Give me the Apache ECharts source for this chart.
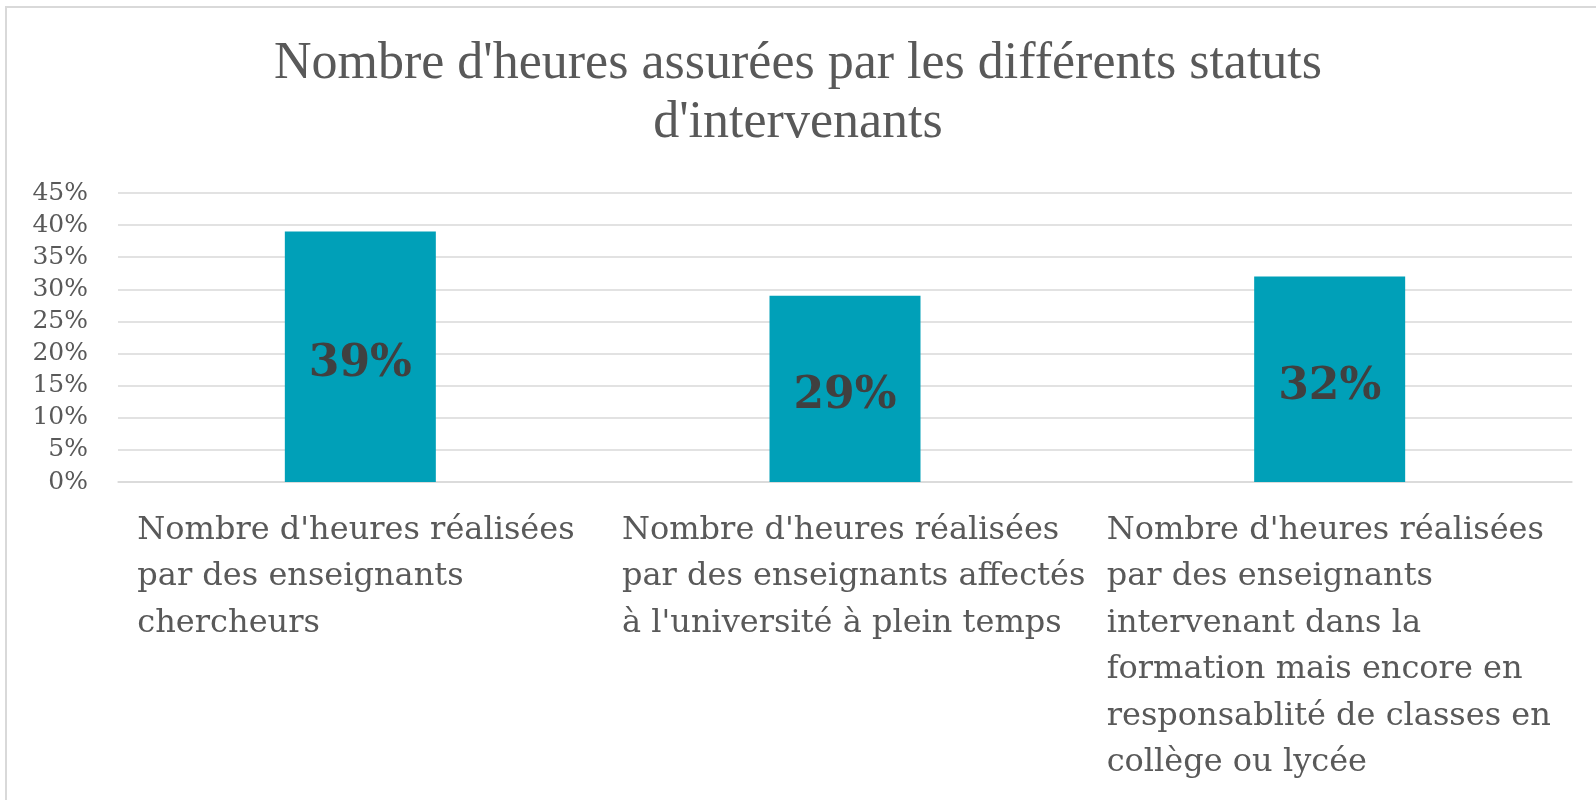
<!DOCTYPE html>
<html>
<head>
<meta charset="utf-8">
<script src="https://cdn.jsdelivr.net/npm/echarts@6/dist/echarts.min.js"></script>
<style>
  html, body { margin: 0; padding: 0; background: #fff; }
  #chart { width: 1596px; height: 800px; }
</style>
</head>
<body>
<div id="chart"></div>
<script>
var titleText = "Nombre d'heures assurées par les différents statuts\nd'intervenants";
// category names, line breaks as in the picture
var categories = [
	"Nombre d'heures réalisées\npar des enseignants\nchercheurs",
	"Nombre d'heures réalisées\npar des enseignants affectés\nà l'université à plein temps",
	"Nombre d'heures réalisées\npar des enseignants\nintervenant dans la\nformation mais encore en\nresponsablité de classes en\ncollège ou lycée"
];
var values = [39, 29, 32];
var yMax = 45;
var yStep = 5;

var myChart = echarts.init(document.getElementById('chart'));
var option = {
	backgroundColor: '#fff',
	animation: false,
	title: {
		text: titleText,
		left: 'center',
		top: 30,
		textStyle: {
			fontFamily: 'Liberation Serif',
			fontWeight: 'normal',
			fontSize: 52,
			lineHeight: 59,
			color: '#595959'
		}
	},
	graphic: [{
		type: 'rect',
		shape: { x: 6, y: 7, width: 1700, height: 900 },
		style: { fill: 'none', stroke: '#d9d9d9', lineWidth: 2 },
		silent: true
	}],
	grid: { left: 118, right: 24, top: 193, bottom: 318 },
	xAxis: {
		type: 'category',
		data: categories,
		axisLine: { show: true, lineStyle: { color: '#d9d9d9', width: 1.5 } },
		axisTick: { show: false },
		axisLabel: {
			interval: 0,
			margin: 25,
			align: 'center',
			formatter: function (v) {
				return v.split('\n').map(function (l) { return '{a|' + l + '}'; }).join('\n');
			},
			rich: {
				a: {
					width: 446,
					align: 'left',
					fontFamily: 'DejaVu Serif',
					fontSize: 32,
					lineHeight: 46.5,
					color: '#595959'
				}
			}
		}
	},
	yAxis: {
		type: 'value',
		min: 0,
		max: yMax,
		interval: yStep,
		axisLine: { show: false },
		axisTick: { show: false },
		splitLine: { lineStyle: { color: '#d9d9d9', width: 1.5 } },
		axisLabel: {
			formatter: '{value}%',
			margin: 30,
			fontFamily: 'DejaVu Serif',
			fontSize: 25,
			color: '#595959'
		}
	},
	series: [{
		type: 'bar',
		data: values,
		barWidth: 151,
		itemStyle: { color: '#00A0B8' },
		label: {
			show: true,
			position: 'inside',
			offset: [0, 8],
			formatter: '{c}%',
			fontFamily: 'DejaVu Serif',
			fontWeight: 'bold',
			fontSize: 44,
			color: '#404040'
		}
	}]
};
myChart.setOption(option);
window.onresize = myChart.resize;
</script>
</body>
</html>
